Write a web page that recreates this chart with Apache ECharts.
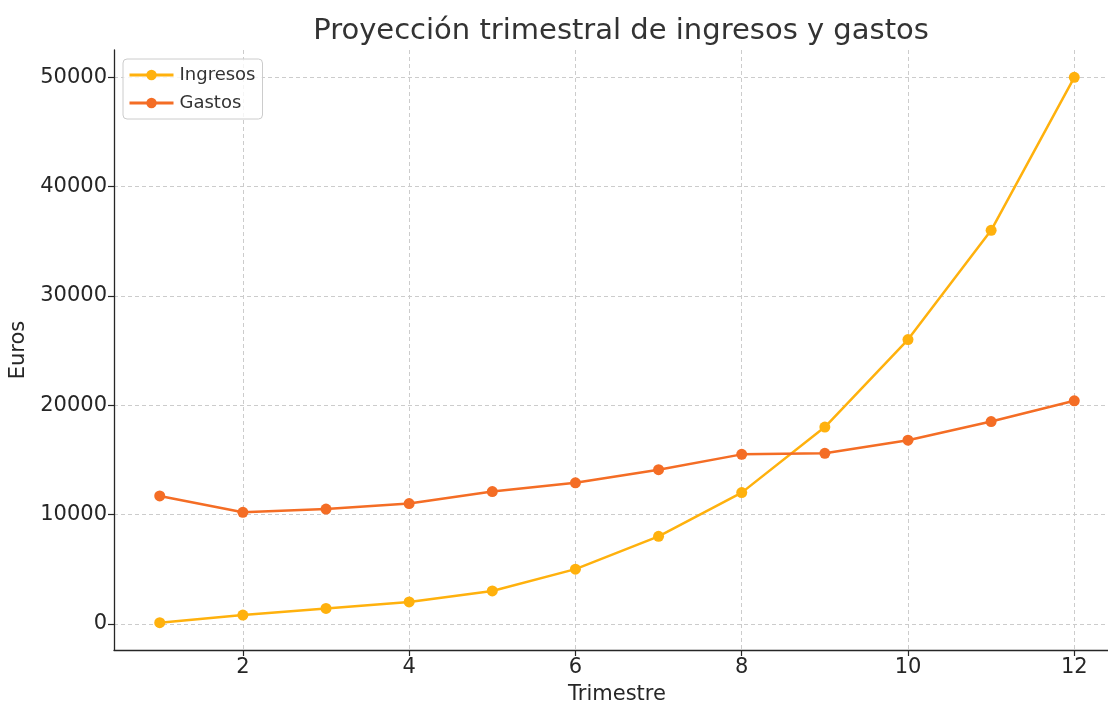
<!DOCTYPE html>
<html>
<head>
<meta charset="utf-8">
<script src="https://cdn.jsdelivr.net/npm/echarts@6/dist/echarts.min.js"></script>
<style>
  html, body { margin: 0; padding: 0; background: #fff; }
  #chart { width: 1108px; height: 704px; }
</style>
</head>
<body>
<div id="chart"></div>
<script>
  // datos
  var trimestres = [1, 2, 3, 4, 5, 6, 7, 8, 9, 10, 11, 12];
  var ingresos = [100, 800, 1400, 2000, 3000, 5000, 8000, 12000, 18000, 26000, 36000, 50000];
  var gastos = [11700, 10200, 10500, 11000, 12100, 12900, 14100, 15500, 15600, 16800, 18500, 20400];
  var xTicks = [2, 4, 6, 8, 10, 12];
  var yTicks = [0, 10000, 20000, 30000, 40000, 50000];

  var font = 'DejaVu Sans';

  function pairs(xs, ys) {
    return xs.map(function (x, i) { return [x, ys[i]]; });
  }

  var chart = echarts.init(document.getElementById('chart'));
  var option = {
    animation: false,
    backgroundColor: '#ffffff',
    textStyle: { fontFamily: font },
    title: {
      text: 'Proyección trimestral de ingresos y gastos',
      left: 616,
      top: 12,
      textAlign: 'center',
      textStyle: { fontFamily: font, fontSize: 29, fontWeight: 'normal', color: '#333333' }
    },
    legend: {
      orient: 'vertical',
      left: 123,
      top: 59,
      padding: [7, 7, 7, 5],
      itemGap: 10,
      itemWidth: 44,
      itemHeight: 13,
      borderColor: '#cccccc',
      borderWidth: 1,
      borderRadius: 4,
      backgroundColor: 'rgba(255,255,255,0.8)',
      lineStyle: { width: 3 },
      textStyle: { fontFamily: font, fontSize: 18, color: '#333333', padding: [0, 0, 0, 1] },
      data: ['Ingresos', 'Gastos']
    },
    grid: {
      left: 114,
      right: -12,
      top: 50,
      bottom: 54,
      outerBoundsMode: 'none',
      containLabel: false
    },
    xAxis: {
      type: 'value',
      min: 0.45,
      max: 12.55,
      name: 'Trimestre',
      nameLocation: 'middle',
      nameGap: 34,
      nameTextStyle: { fontFamily: font, fontSize: 21, color: '#262626' },
      axisLine: { onZero: false, lineStyle: { color: '#262626', width: 1.3 } },
      axisTick: { show: true, length: 6, customValues: xTicks, lineStyle: { color: '#262626', width: 1.2 } },
      axisLabel: { customValues: xTicks, fontFamily: font, fontSize: 21, color: '#262626', margin: 7 },
      splitLine: { show: true, lineStyle: { color: '#cccccc', type: [4, 3], width: 1 } }
    },
    yAxis: {
      type: 'value',
      min: -2400,
      max: 52500,
      name: 'Euros',
      nameLocation: 'middle',
      nameGap: 75,
      nameTextStyle: { fontFamily: font, fontSize: 21, color: '#262626' },
      axisLine: { show: true, onZero: false, lineStyle: { color: '#262626', width: 1.3 } },
      axisTick: { show: true, length: 6, customValues: yTicks, lineStyle: { color: '#262626', width: 1.2 } },
      axisLabel: {
        customValues: yTicks,
        fontFamily: font,
        fontSize: 21,
        color: '#262626',
        margin: 7,
        formatter: function (v) { return String(v); }
      },
      splitLine: { show: true, lineStyle: { color: '#cccccc', type: [4, 3], width: 1 } }
    },
    series: [
      {
        name: 'Ingresos',
        type: 'line',
        data: pairs(trimestres, ingresos),
        symbol: 'circle',
        symbolSize: 11,
        showAllSymbol: true,
        color: '#ffb10d',
        lineStyle: { width: 2.5, color: '#ffb10d' },
        itemStyle: { color: '#ffb10d' }
      },
      {
        name: 'Gastos',
        type: 'line',
        data: pairs(trimestres, gastos),
        symbol: 'circle',
        symbolSize: 11,
        showAllSymbol: true,
        color: '#f46d25',
        lineStyle: { width: 2.5, color: '#f46d25' },
        itemStyle: { color: '#f46d25' }
      }
    ]
  };
  chart.setOption(option);
</script>
</body>
</html>
